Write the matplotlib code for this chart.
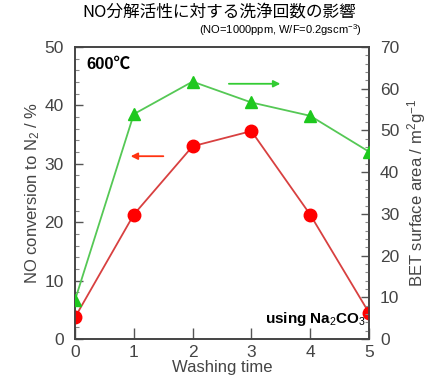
import numpy as np
from matplotlib import pyplot as plt

plt.rcParams['font.family'] = ['Liberation Sans', 'Noto Sans CJK JP', 'DejaVu Sans']
plt.rcParams['mathtext.fontset'] = 'custom'
plt.rcParams['mathtext.rm'] = 'Liberation Sans'
plt.rcParams['mathtext.it'] = 'Liberation Sans:italic'
plt.rcParams['mathtext.bf'] = 'Liberation Sans:bold'

washing_time = [0, 1, 2, 3, 4, 5]
no_conversion = [3.7, 21.3, 33.0, 35.6, 21.3, 4.5]
bet_area = [9.3, 53.9, 61.7, 56.7, 53.5, 44.9]

fig = plt.figure(figsize=(4.39, 3.87), dpi=100)
ax = fig.add_axes([0.1708, 0.124, 0.6697, 0.7546])
ax2 = ax.twinx()

ax.plot(washing_time, no_conversion, color='#d84040', lw=1.3, marker='o', ms=9,
        mfc='#ff0000', mec='#ff0000', zorder=3)
ax2.plot(washing_time, bet_area, color='#55c855', lw=1.3, marker='^', ms=9,
         mfc='#1ec81e', mec='#1ec81e', zorder=3)

ax.set_xlim(0, 5)
ax.set_ylim(0, 50)
ax2.set_ylim(0, 70)
ax.set_xticks(range(6))
ax.set_yticks(range(0, 51, 10))
ax.set_yticks(range(0, 51, 2), minor=True)
ax2.set_yticks(range(0, 71, 10))
ax2.set_yticks(range(0, 71, 2), minor=True)

tc = '#444444'
for a in (ax, ax2):
    a.tick_params(direction='in', length=6, width=1, colors='#555555', labelcolor=tc,
                  labelsize=12.5, pad=8)
    a.tick_params(which='minor', direction='in', length=3, width=0.8, colors='#888888')
    for s in a.spines.values():
        s.set_color('#444444')
        s.set_linewidth(1.2)
ax.tick_params(axis='x', length=8, pad=4)

ax.set_xlabel('Washing time', fontsize=12, color=tc, labelpad=0)
ax.set_ylabel('NO conversion to N$_2$ / %', fontsize=12, color=tc, labelpad=2)
ax2.set_ylabel('BET surface area / m$^2$g$^{-1}$', fontsize=12, color=tc, labelpad=4)

ax.annotate('', xy=(3.54, 43.7), xytext=(2.57, 43.7),
            arrowprops=dict(arrowstyle='-|>', color='#33cc33', lw=1.3, mutation_scale=10))
ax.annotate('', xy=(0.9, 31.3), xytext=(1.55, 31.3),
            arrowprops=dict(arrowstyle='-|>', color='#ff3311', lw=1.3, mutation_scale=10))

ax.text(0.2, 47, '600℃', fontsize=12, fontweight='bold', va='center', ha='left',
        family=['Liberation Sans', 'Noto Sans CJK JP'])
ax.text(4.95, 3.4, 'using Na$_2$CO$_3$', fontsize=11, fontweight='bold', va='center', ha='right')

fig.text(0.5, 0.968, 'NO分解活性に対する洗浄回数の影響', fontsize=12, ha='center', va='center',
         family=['Noto Sans CJK JP'])
fig.text(0.825, 0.922, '(NO=1000ppm, W/F=0.2gscm$^{-3}$)', fontsize=8, ha='right', va='center')

fig.savefig('out.png', dpi=100)
